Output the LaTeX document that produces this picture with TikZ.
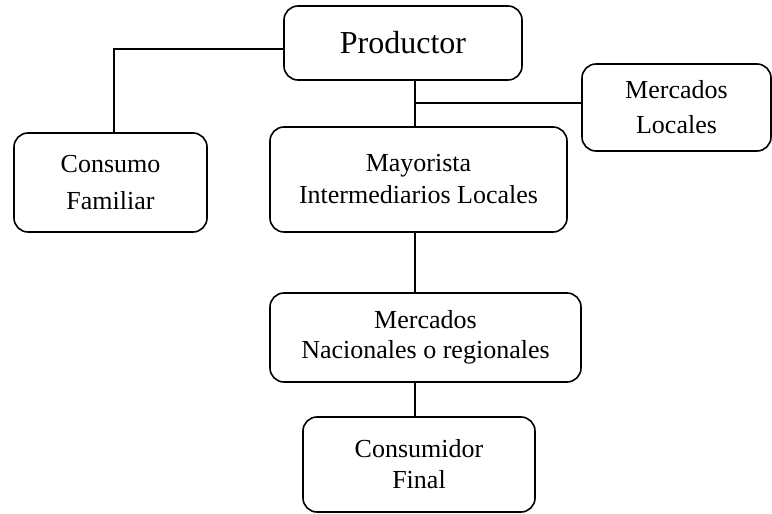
\documentclass[tikz,border=0pt]{standalone}
\usepackage{fontspec}
\setmainfont{Liberation Serif}
\begin{document}
\begin{tikzpicture}[x=1pt,y=-1pt,
  box/.style={draw, rounded corners=14pt, line width=1.6pt, align=center, inner sep=0pt,
    font=\fontsize{26}{32}\selectfont},
  conn/.style={line width=1.6pt}]
\useasboundingbox (0,0) rectangle (772,514);
\node[box, minimum width=238pt, minimum height=74pt, font=\fontsize{32}{38}\selectfont] (prod) at (403,43) {Productor};
\node[box, minimum width=189pt, minimum height=87pt, font=\fontsize{26}{35}\selectfont] (ml) at (676.5,107.5) {Mercados\\Locales};
\node[box, minimum width=193pt, minimum height=99pt, font=\fontsize{26}{37}\selectfont] (cons) at (110.5,182.5) {Consumo\\Familiar};
\node[box, minimum width=297pt, minimum height=105pt] (may) at (418.5,179.5) {Mayorista\\Intermediarios Locales};
\node[box, minimum width=311pt, minimum height=89pt, font=\fontsize{26}{30}\selectfont] (nac) at (425.5,337.5) {Mercados\\Nacionales o regionales};
\node[box, minimum width=232pt, minimum height=95pt, font=\fontsize{26}{31}\selectfont] (cf) at (419,464.5) {Consumidor\\Final};
\coordinate (vx) at (415,0);
\coordinate (j) at (415,103);
\coordinate (k) at (114,49);
\draw[conn] (prod.south -| vx) -- (may.north -| vx);
\draw[conn] (j) -- (j -| ml.west);
\draw[conn] (cons.north -| k) -- (k) -- (k -| prod.west);
\draw[conn] (may.south -| vx) -- (nac.north -| vx);
\draw[conn] (nac.south -| vx) -- (cf.north -| vx);
\end{tikzpicture}
\end{document}
